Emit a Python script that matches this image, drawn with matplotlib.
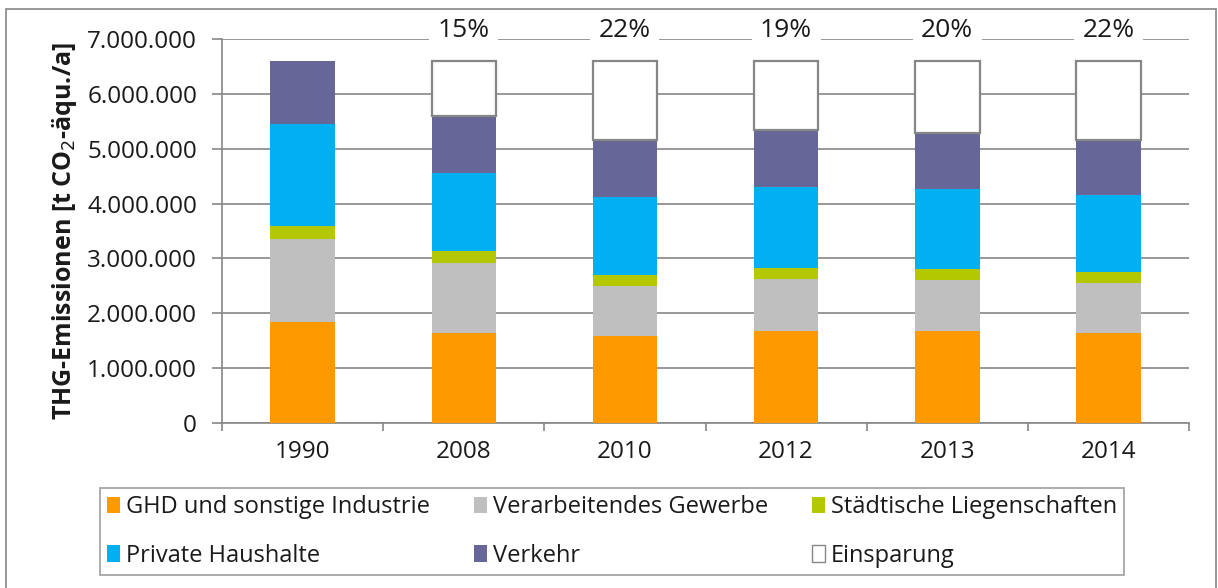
import numpy as np
import matplotlib.pyplot as plt
from matplotlib.patches import Patch, Rectangle

plt.rcParams['font.family'] = ['Open Sans', 'DejaVu Sans']

# Daten
jahre = ['1990', '2008', '2010', '2012', '2013', '2014']
ghd = [1840000, 1640000, 1580000, 1680000, 1680000, 1640000]
gewerbe = [1510000, 1270000, 920000, 940000, 920000, 910000]
liegenschaften = [240000, 220000, 200000, 200000, 200000, 200000]
haushalte = [1860000, 1420000, 1420000, 1480000, 1460000, 1400000]
verkehr = [1140000, 1040000, 1030000, 1040000, 1020000, 1000000]
basis_1990 = 6590000
prozent = ['', '15%', '22%', '19%', '20%', '22%']

farben = ['#FF9900', '#BFBFBF', '#B3C800', '#00B0F0', '#666699']
namen = ['GHD und sonstige Industrie', 'Verarbeitendes Gewerbe',
         'Städtische Liegenschaften', 'Private Haushalte', 'Verkehr']
grau = '#868686'
textfarbe = '#1a1a1a'

fig = plt.figure(figsize=(12.18, 5.88), dpi=100)
ax = fig.add_axes([0.1823, 0.2806, 0.7939, 0.6531])

x = np.arange(len(jahre))
breite = 0.4
unten = np.zeros(len(jahre))
for werte, farbe in zip([ghd, gewerbe, liegenschaften, haushalte, verkehr], farben):
    ax.bar(x, werte, breite, bottom=unten, color=farbe, zorder=3)
    unten = unten + np.array(werte)

# Einsparung gegenüber 1990
einsparung = np.where(x > 0, basis_1990 - unten, 0)
ax.bar(x[1:], einsparung[1:], breite, bottom=unten[1:], color='white',
       edgecolor=grau, linewidth=1.6, zorder=3)

for xi, p in zip(x, prozent):
    if p:
        ax.text(xi, 7150000, p, ha='center', va='center', fontsize=19,
                color=textfarbe, zorder=4,
                bbox=dict(facecolor='white', edgecolor='none', pad=6))

ax.set_xlim(-0.5, len(jahre) - 0.5)
ax.set_ylim(0, 7000000)
ax.set_yticks(np.arange(0, 7000001, 1000000))
ax.set_yticklabels(['0'] + [f'{v:,}'.replace(',', '.') for v in range(1000000, 7000001, 1000000)])
ax.set_xticks(x)
ax.set_xticklabels(jahre)
ax.set_xticks(np.arange(-0.5, len(jahre), 1), minor=True)
ax.tick_params(axis='x', which='major', length=0, pad=12, labelsize=17.5, labelcolor=textfarbe)
ax.tick_params(axis='x', which='minor', length=6, color=grau, width=1.2)
ax.tick_params(axis='y', length=7, color=grau, width=1.2, labelsize=17.5, labelcolor=textfarbe, pad=11)
ax.grid(axis='y', color=grau, linewidth=1.2, zorder=0)
ax.set_axisbelow(True)
for s in ['top', 'right']:
    ax.spines[s].set_visible(False)
for s in ['left', 'bottom']:
    ax.spines[s].set_color(grau)
    ax.spines[s].set_linewidth(1.2)

ax.set_ylabel('THG-Emissionen [t CO$_2$-äqu./a]', fontsize=18, fontweight='bold',
              color=textfarbe, labelpad=6)

handles = [Patch(facecolor=c, edgecolor='none') for c in farben]
handles.append(Patch(facecolor='white', edgecolor=grau, linewidth=1))
labels = namen + ['Einsparung']
ordnung = [0, 3, 1, 4, 2, 5]
leg = fig.legend([handles[i] for i in ordnung], [labels[i] for i in ordnung],
                 ncol=3, loc='center', mode='expand',
                 bbox_to_anchor=(0.0821, 0.0204, 0.8407, 0.1514),
                 fontsize=17, frameon=True, fancybox=False,
                 handlelength=0.55, handleheight=0.7, handletextpad=0.25,
                 columnspacing=0.3, labelspacing=1.05, borderpad=0.3, borderaxespad=0)
leg.get_frame().set_edgecolor(grau)
leg.get_frame().set_linewidth(1.2)
for t in leg.get_texts():
    t.set_color(textfarbe)

# Rahmen um die Grafik
fig.patches.append(Rectangle((0.005, -0.02), 0.993, 1.005, transform=fig.transFigure,
                             fill=False, edgecolor=grau, linewidth=1.2))

fig.savefig('out.png', dpi=100)
